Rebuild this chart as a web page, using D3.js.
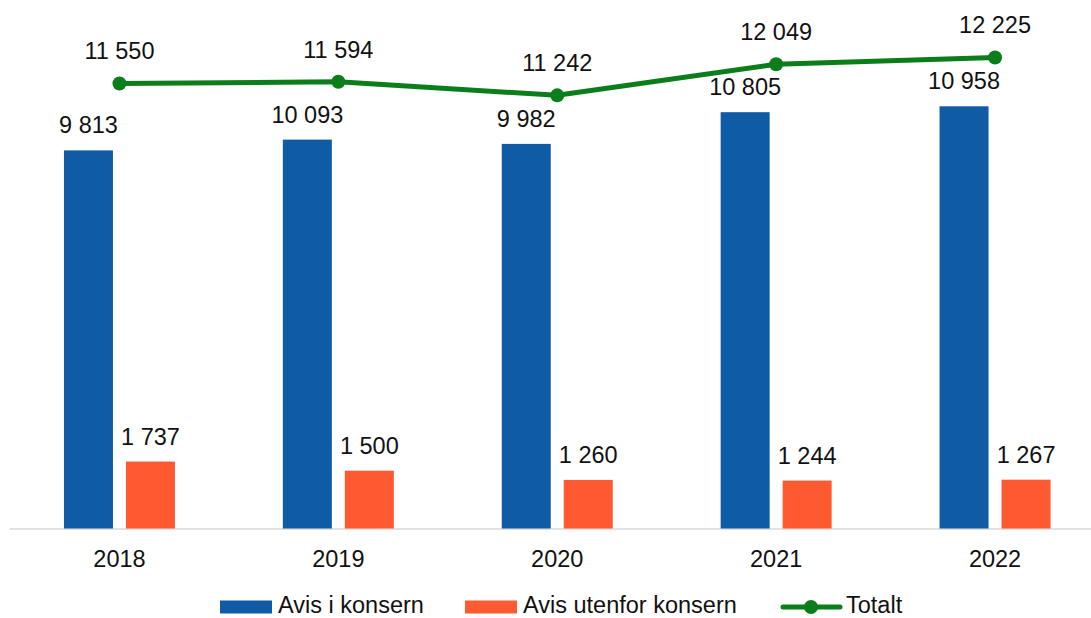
<!DOCTYPE html>
<html>
<head>
<meta charset="utf-8">
<script src="https://cdn.jsdelivr.net/npm/d3@7"></script>
<style>
  html, body { margin: 0; padding: 0; background: #fff; }
  svg { display: block; font-family: "Liberation Sans", Arial, sans-serif; }
</style>
</head>
<body>
<svg id="chart" width="1091" height="618"></svg>
<script>
// Avisopplag per år
const years = ["2018", "2019", "2020", "2021", "2022"];
const avisIKonsern = [9813, 10093, 9982, 10805, 10958];
const avisUtenforKonsern = [1737, 1500, 1260, 1244, 1267];
const totalt = [11550, 11594, 11242, 12049, 12225];
const seriesNames = ["Avis i konsern", "Avis utenfor konsern", "Totalt"];

const colors = { blue: "#0f5ba6", orange: "#fe5a31", green: "#0b7e1b", axis: "#d9d9d9", text: "#111" };
const fmt = v => d3.format(",")(v).replace(/,/g, " ");

const svg = d3.select("#chart");
const baseY = 528.5;

const x = d3.scaleBand().domain(years).range([10, 1104.5]).padding(0);
const y = d3.scaleLinear().domain([0, 13000]).range([baseY, baseY - 13000 * 0.03853]);

const barW = 49, barGap = 13;
const sub = d3.scaleOrdinal().domain(["blue", "orange"])
  .range([-(barGap / 2 + barW), barGap / 2]);
const cx = yr => x(yr) + x.bandwidth() / 2;

// Grunnlinje
svg.append("line")
  .attr("x1", 10).attr("x2", 1091)
  .attr("y1", baseY + 0.5).attr("y2", baseY + 0.5)
  .attr("stroke", colors.axis).attr("stroke-width", 1.5);

const labelSize = 23.5;

function drawBars(values, key, color) {
  const g = svg.append("g");
  g.selectAll("rect").data(values).join("rect")
    .attr("x", (d, i) => cx(years[i]) + sub(key))
    .attr("y", d => y(d))
    .attr("width", barW)
    .attr("height", d => y(0) - y(d))
    .attr("fill", color);
  g.selectAll("text").data(values).join("text")
    .attr("x", (d, i) => cx(years[i]) + sub(key) + barW / 2)
    .attr("y", d => y(d) - 17)
    .attr("text-anchor", "middle")
    .attr("font-size", labelSize)
    .attr("fill", colors.text)
    .text(d => fmt(d));
}
drawBars(avisIKonsern, "blue", colors.blue);
drawBars(avisUtenforKonsern, "orange", colors.orange);

// Totalt-linje
const line = d3.line().x((d, i) => cx(years[i])).y(d => y(d));
svg.append("path").datum(totalt)
  .attr("d", line)
  .attr("fill", "none")
  .attr("stroke", colors.green)
  .attr("stroke-width", 5)
  .attr("stroke-linejoin", "round");
svg.append("g").selectAll("circle").data(totalt).join("circle")
  .attr("cx", (d, i) => cx(years[i]))
  .attr("cy", d => y(d))
  .attr("r", 7)
  .attr("fill", colors.green);
svg.append("g").selectAll("text").data(totalt).join("text")
  .attr("x", (d, i) => cx(years[i]))
  .attr("y", d => y(d) - 24)
  .attr("text-anchor", "middle")
  .attr("font-size", labelSize)
  .attr("fill", colors.text)
  .text(d => fmt(d));

// X-akse
const xAxis = svg.append("g")
  .attr("transform", `translate(0,${baseY})`)
  .call(d3.axisBottom(x).tickSize(0).tickPadding(0));
xAxis.select(".domain").remove();
xAxis.selectAll("text")
  .attr("dy", null)
  .attr("y", 38)
  .attr("font-size", labelSize)
  .attr("font-family", "Liberation Sans, Arial, sans-serif")
  .attr("fill", colors.text);

// Tegnforklaring
const legendY = 607;
const legendBase = 613;
const legendSize = 23.5;
const leg = svg.append("g");
leg.append("rect").attr("x", 220).attr("y", legendY - 6.5).attr("width", 52).attr("height", 13).attr("fill", colors.blue);
leg.append("text").attr("x", 278).attr("y", legendBase).attr("font-size", legendSize).attr("fill", colors.text).text(seriesNames[0]);
leg.append("rect").attr("x", 465).attr("y", legendY - 6.5).attr("width", 52).attr("height", 13).attr("fill", colors.orange);
leg.append("text").attr("x", 523).attr("y", legendBase).attr("font-size", legendSize).attr("fill", colors.text).text(seriesNames[1]);
leg.append("line").attr("x1", 783).attr("x2", 840).attr("y1", legendY).attr("y2", legendY)
  .attr("stroke", colors.green).attr("stroke-width", 5).attr("stroke-linecap", "round");
leg.append("circle").attr("cx", 811).attr("cy", legendY).attr("r", 7).attr("fill", colors.green);
leg.append("text").attr("x", 846).attr("y", legendBase).attr("font-size", legendSize).attr("fill", colors.text).text(seriesNames[2]);
</script>
</body>
</html>
